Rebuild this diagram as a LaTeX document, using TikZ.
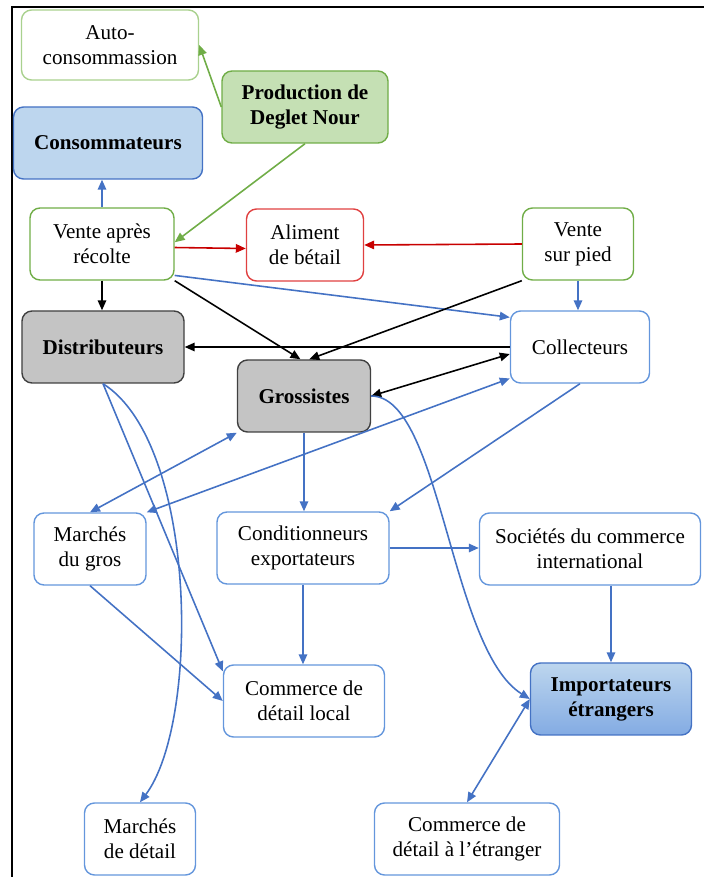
\documentclass[tikz,border=0pt]{standalone}
\usepackage{fontspec}
\setmainfont{Liberation Serif}
\usetikzlibrary{arrows.meta}

\definecolor{vertline}{RGB}{112,173,71}
\definecolor{vertpale}{RGB}{169,209,142}
\definecolor{vertfill}{RGB}{197,224,180}
\definecolor{bleuline}{RGB}{68,114,196}
\definecolor{bleubord}{RGB}{100,150,220}
\definecolor{bleufill}{RGB}{189,214,238}
\definecolor{rougeline}{RGB}{200,0,0}
\definecolor{rougebord}{RGB}{224,64,64}
\definecolor{grisfill}{RGB}{196,196,196}
\definecolor{grisbord}{RGB}{64,64,64}

\begin{document}
\begin{tikzpicture}[
    box/.style={rectangle, draw, rounded corners=0.2cm, line width=0.8pt, align=center, minimum height=1.44cm, font=\fontsize{12}{14.2}\selectfont},
    boldbox/.style={box, font=\fontsize{12}{14.2}\selectfont\bfseries},
    flow/.style={-{Triangle[length=0.2cm,width=0.17cm]}, line width=0.9pt},
    twoway/.style={{Triangle[length=0.2cm,width=0.17cm]}-{Triangle[length=0.2cm,width=0.17cm]}, line width=0.9pt}
]
    \useasboundingbox (0,0) rectangle (14.08,17.54);
    \draw[line width=1.6pt] (0.24,0) |- (14.08,17.40);

    % Production
    \node[box, draw=vertpale, minimum width=3.54cm, minimum height=1.40cm] (auto) at (2.20,16.64) {Auto-\\consommassion};
    \node[boldbox, draw=vertline, fill=vertfill, minimum width=3.32cm] (prod) at (6.10,15.40) {Production de\\Deglet Nour};
    \node[boldbox, draw=bleuline, fill=bleufill, minimum width=3.78cm] (conso) at (2.16,14.68) {Consommateurs};

    % Ventes
    \node[box, draw=vertline, minimum width=2.88cm] (venteR) at (2.04,12.66) {Vente après\\récolte};
    \node[box, draw=rougebord, minimum width=2.34cm] (aliment) at (6.10,12.64) {Aliment\\de bétail};
    \node[box, draw=vertline, minimum width=2.22cm] (venteP) at (11.56,12.66) {Vente\\sur pied};

    % Intermediaires
    \node[boldbox, draw=grisbord, fill=grisfill, minimum width=3.24cm] (distrib) at (2.06,10.60) {Distributeurs};
    \node[box, draw=bleubord, minimum width=2.78cm] (collect) at (11.60,10.60) {Collecteurs};
    \node[boldbox, draw=grisbord, fill=grisfill, minimum width=2.66cm] (gross) at (6.08,9.62) {Grossistes};

    % Marches
    \node[box, draw=bleubord, minimum width=2.24cm] (mgros) at (1.80,6.56) {Marchés\\du gros};
    \node[box, draw=bleubord, minimum width=3.44cm] (condi) at (6.06,6.58) {Conditionneurs\\exportateurs};
    \node[box, draw=bleubord, minimum width=4.42cm] (societes) at (11.80,6.56) {Sociétés du commerce\\international};
    \node[box, draw=bleubord, minimum width=3.22cm] (local) at (6.08,3.52) {Commerce de\\détail local};
    \node[boldbox, draw=bleuline, top color=bleufill, bottom color=bleubord!80, minimum width=3.22cm] (import) at (12.22,3.56) {Importateurs\\étrangers};
    \node[box, draw=bleubord, minimum width=2.22cm] (mdetail) at (2.80,0.76) {Marchés\\de détail};
    \node[box, draw=bleubord, minimum width=3.70cm] (etranger) at (9.34,0.76) {Commerce de\\détail à l’étranger};

    % Connections
    \draw[flow, vertline] (prod.west) -- (auto.east);
    \draw[flow, vertline] (prod.south) -- ([yshift=1pt]venteR.east);
    \draw[flow, bleuline] (venteR.north) -- (venteR.north |- conso.south);
    \draw[flow, rougeline] ([yshift=-2pt]venteR.east) -- ([yshift=-2pt]aliment.west);
    \draw[flow, rougeline] (venteP.west) -- (aliment.east);
    \draw[flow] (venteR.south) -- (venteR.south |- distrib.north);
    \draw[flow] (venteR.south east) -- ([xshift=-2pt]gross.north);
    \draw[flow, bleuline] ([yshift=3pt]venteR.south east) -- ([yshift=-4pt]collect.north west);
    \draw[flow] (venteP.south west) -- ([xshift=3pt]gross.north);
    \draw[flow, bleuline] (venteP.south) -- (venteP.south |- collect.north);
    \draw[flow] (collect.west) -- (distrib.east);
    \draw[twoway] (gross.east) -- ([yshift=-4pt]collect.west);
    \draw[twoway, bleuline] ([yshift=3pt]collect.south west) -- (mgros.north east);
    \draw[twoway, bleuline] (gross.south west) -- (mgros.north);
    \draw[flow, bleuline] (gross.south) -- (gross.south |- condi.north);
    \draw[flow, bleuline] (collect.south) -- (condi.north east);
    \draw[flow, bleuline] (condi.east) -- (condi.east -| societes.west);
    \draw[flow, bleuline] (condi.south) -- (condi.south |- local.north);
    \draw[flow, bleuline] (import.north |- societes.south) -- (import.north);
    \draw[twoway, bleuline] (import.west) -- (etranger.north);
    \draw[flow, bleuline] (gross.east) .. controls +(1.4,0) and +(-1.6,1.0) .. (import.west);
    \draw[flow, bleuline] (distrib.south) -- ([yshift=-4pt]local.north west);
    \draw[flow, bleuline] (distrib.south) .. controls +(1.9,-1.2) and +(1.2,1.6) .. (mdetail.north);
    \draw[flow, bleuline] (mgros.south) -- (local.west);

\end{tikzpicture}
\end{document}
